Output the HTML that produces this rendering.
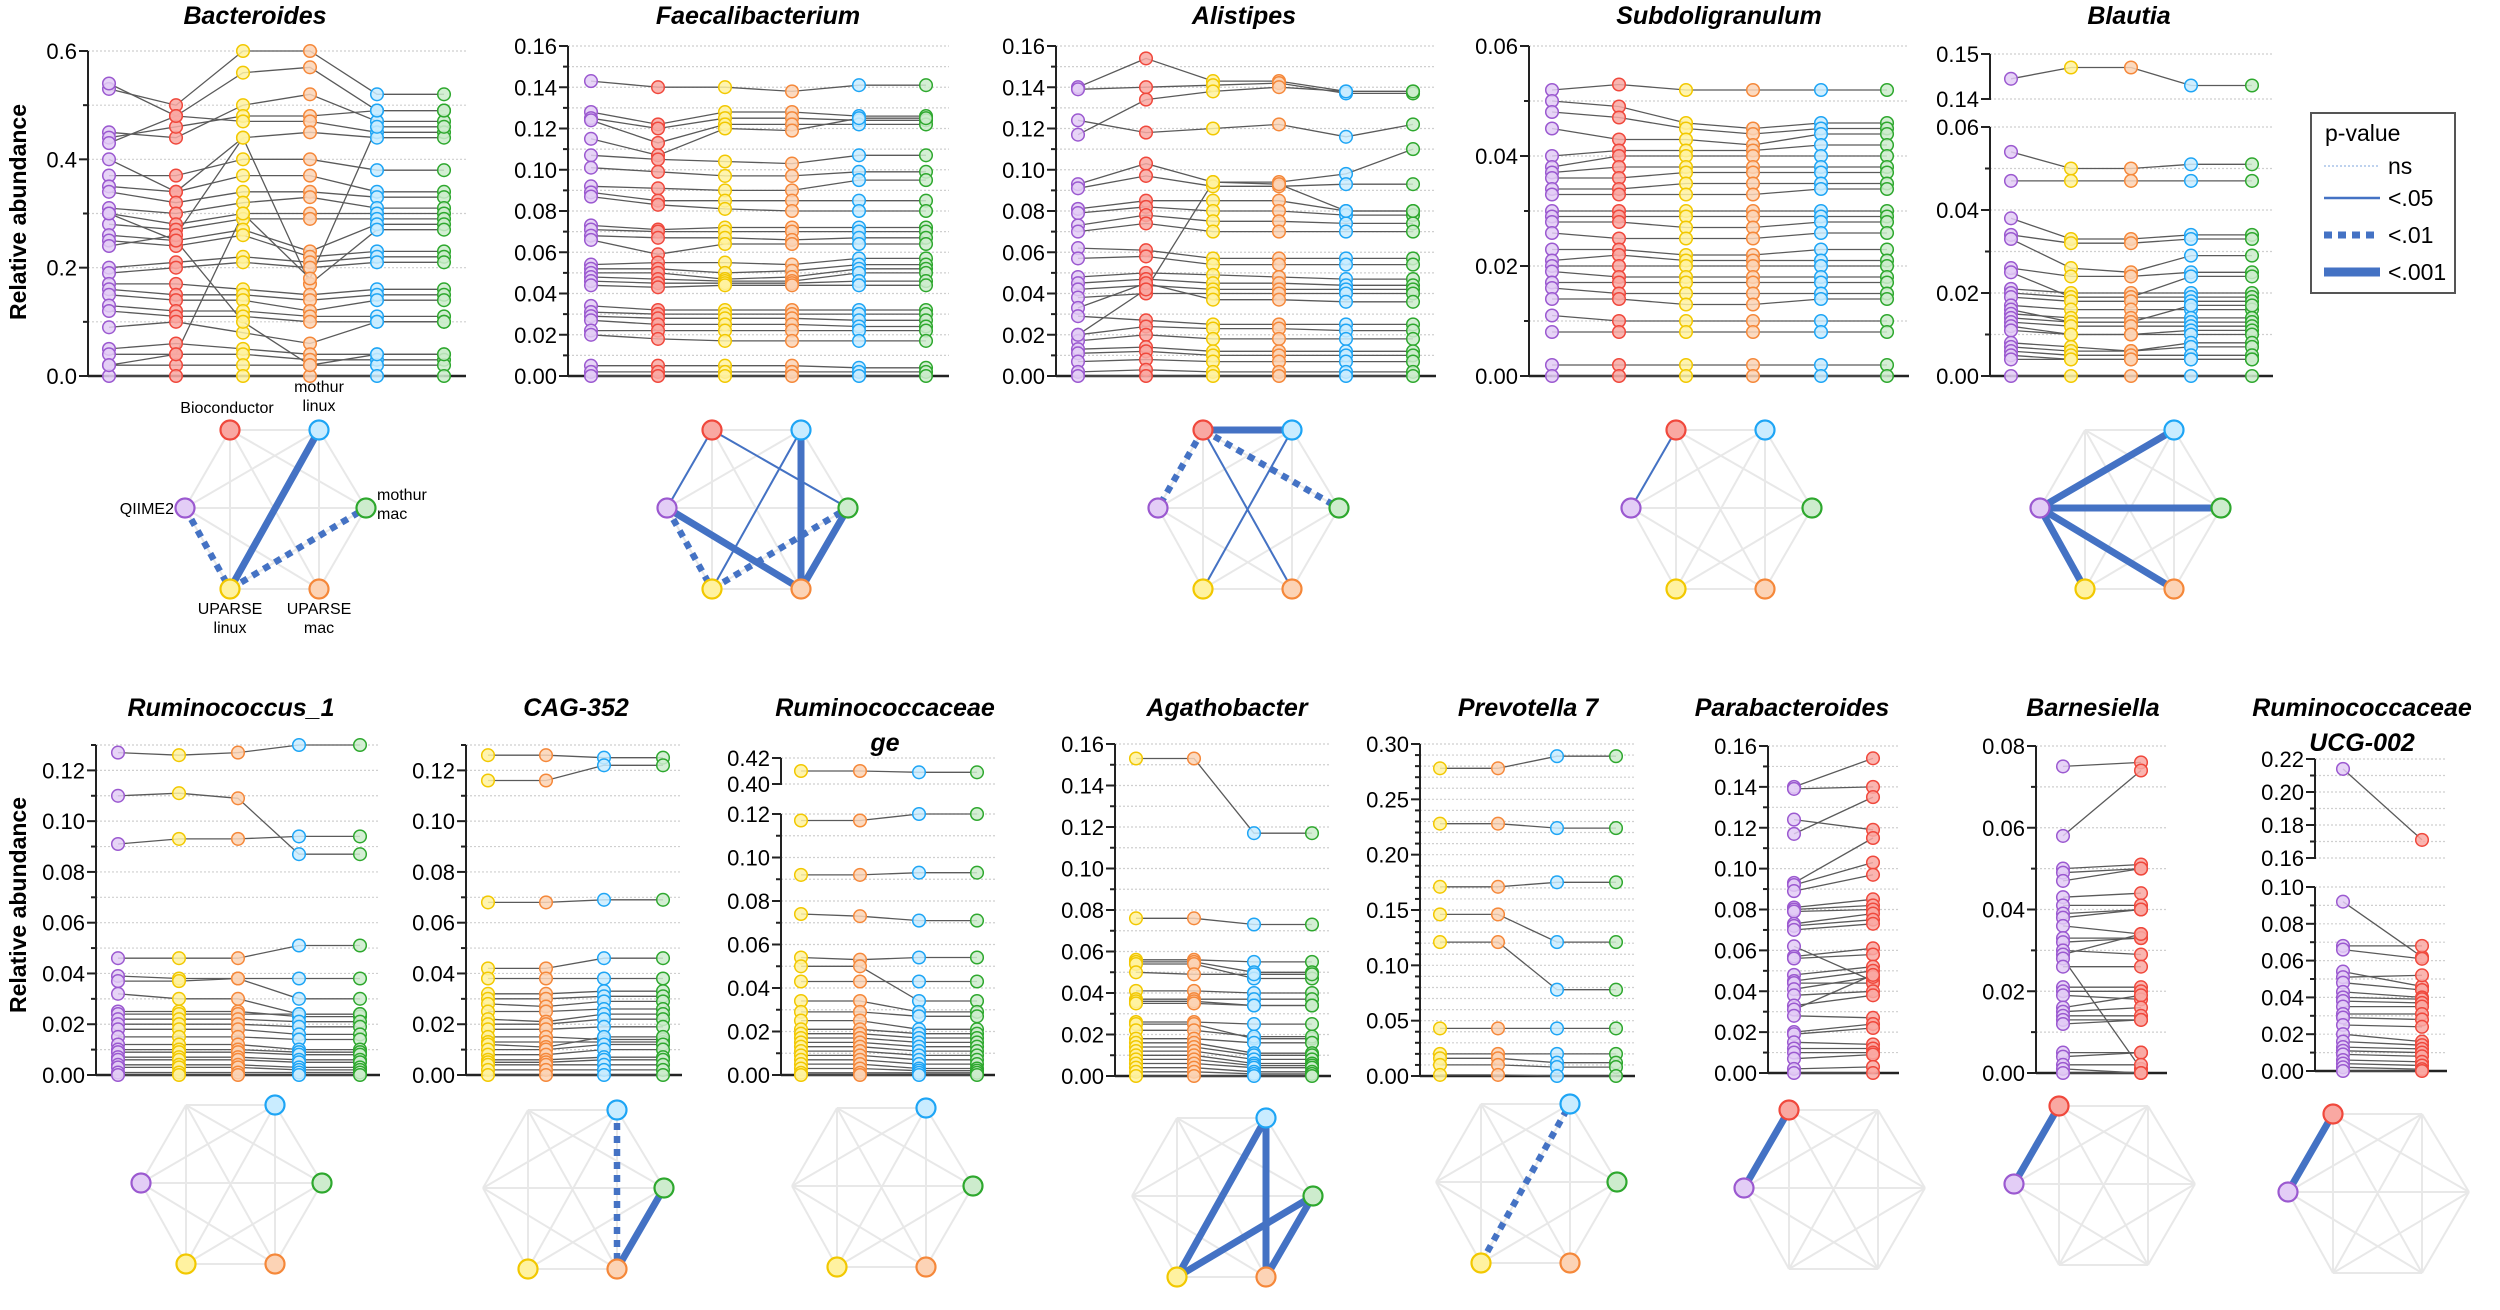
<!DOCTYPE html>
<html><head><meta charset="utf-8"><style>
html,body{margin:0;padding:0;background:#fff}
svg{display:block}
text{font-family:"Liberation Sans",sans-serif}
</style></head><body>
<svg id="fig" width="2500" height="1310" viewBox="0 0 2500 1310" xmlns="http://www.w3.org/2000/svg">
<text x="0" y="0" transform="translate(26,212) rotate(-90)" text-anchor="middle" font-size="23" font-weight="bold">Relative abundance</text>
<text x="0" y="0" transform="translate(26,905) rotate(-90)" text-anchor="middle" font-size="23" font-weight="bold">Relative abundance</text>
<g>
<rect x="2311" y="113" width="144" height="180" fill="#fff" stroke="#555" stroke-width="2"/>
<text x="2325" y="141" font-size="23">p-value</text>
<line x1="2324" y1="166" x2="2380" y2="166" stroke="#a8c4e8" stroke-width="1.5" stroke-dasharray="2,2"/>
<text x="2388" y="174" font-size="23">ns</text>
<line x1="2324" y1="198" x2="2380" y2="198" stroke="#4472c4" stroke-width="2.5"/>
<text x="2388" y="206" font-size="23">&lt;.05</text>
<line x1="2324" y1="235" x2="2380" y2="235" stroke="#4472c4" stroke-width="7" stroke-dasharray="8,6"/>
<text x="2388" y="243" font-size="23">&lt;.01</text>
<line x1="2324" y1="272" x2="2380" y2="272" stroke="#4472c4" stroke-width="9"/>
<text x="2388" y="280" font-size="23">&lt;.001</text>
</g>
</svg>
<script>
// ---- data ----
const methodColors = {P:["#9b59d0","#e3cdf6"],R:["#f0483c","#f9a8a2"],Y:["#f2c800","#fff2a0"],O:["#f5883a","#fcd3b5"],B:["#1ea5f5","#c9ecff"],G:["#2ea82e","#cdeccd"]};
const bacteroidesValues = [[0.53,0.50,0.60,0.60,0.52,0.52],[0.54,0.48,0.56,0.57,0.49,0.49],[0.45,0.44,0.50,0.52,0.47,0.47],[0.44,0.46,0.48,0.48,0.49,0.49],[0.43,0.48,0.47,0.47,0.45,0.45],[0.40,0.34,0.44,0.45,0.44,0.44],[0.37,0.37,0.40,0.40,0.38,0.38],[0.35,0.34,0.37,0.37,0.34,0.34],[0.34,0.32,0.34,0.34,0.33,0.33],[0.31,0.30,0.32,0.33,0.31,0.31],[0.30,0.28,0.30,0.30,0.30,0.30],[0.28,0.27,0.29,0.29,0.29,0.29],[0.26,0.25,0.27,0.23,0.28,0.28],[0.25,0.24,0.26,0.22,0.23,0.23],[0.24,0.26,0.44,0.17,0.27,0.27],[0.20,0.21,0.22,0.21,0.22,0.22],[0.19,0.20,0.21,0.20,0.21,0.21],[0.17,0.17,0.16,0.15,0.16,0.16],[0.16,0.15,0.15,0.14,0.15,0.15],[0.15,0.14,0.14,0.12,0.14,0.14],[0.13,0.12,0.12,0.11,0.11,0.11],[0.12,0.11,0.11,0.10,0.10,0.10],[0.09,0.10,0.08,0.06,0.10,0.10],[0.05,0.06,0.05,0.04,0.04,0.04],[0.04,0.04,0.04,0.03,0.03,0.03],[0.02,0.02,0.02,0.02,0.02,0.02],[0.00,0.00,0.00,0.00,0.00,0.00],[0.30,0.25,0.10,0.02,0.04,0.04],[0.02,0.04,0.30,0.18,0.46,0.46]];
const faecaliValues = [[0.143,0.140,0.140,0.138,0.141,0.141],[0.128,0.122,0.128,0.128,0.126,0.126],[0.125,0.120,0.125,0.125,0.124,0.124],[0.124,0.113,0.122,0.122,0.122,0.122],[0.115,0.107,0.120,0.119,0.125,0.125],[0.107,0.105,0.104,0.103,0.107,0.107],[0.101,0.099,0.097,0.097,0.099,0.099],[0.092,0.091,0.090,0.090,0.095,0.095],[0.089,0.085,0.085,0.085,0.085,0.085],[0.087,0.083,0.081,0.080,0.080,0.080],[0.073,0.071,0.072,0.072,0.072,0.072],[0.071,0.070,0.070,0.070,0.070,0.070],[0.068,0.067,0.067,0.066,0.067,0.067],[0.066,0.059,0.064,0.064,0.064,0.064],[0.054,0.055,0.055,0.054,0.057,0.057],[0.052,0.052,0.050,0.051,0.054,0.054],[0.050,0.050,0.047,0.048,0.052,0.052],[0.048,0.047,0.046,0.046,0.050,0.050],[0.046,0.045,0.045,0.045,0.046,0.046],[0.044,0.043,0.044,0.044,0.044,0.044],[0.034,0.032,0.032,0.032,0.032,0.032],[0.031,0.030,0.030,0.030,0.030,0.030],[0.029,0.028,0.028,0.028,0.027,0.027],[0.027,0.025,0.025,0.025,0.024,0.024],[0.022,0.022,0.022,0.022,0.022,0.022],[0.020,0.018,0.017,0.017,0.017,0.017],[0.005,0.005,0.005,0.005,0.004,0.004],[0.002,0.002,0.002,0.002,0.002,0.002],[0,0,0,0,0,0]];
const alistipesValues = [[0.140,0.154,0.143,0.143,0.138,0.138],[0.139,0.140,0.141,0.142,0.137,0.137],[0.124,0.118,0.120,0.122,0.116,0.122],[0.117,0.134,0.138,0.140,0.138,0.138],[0.093,0.103,0.094,0.094,0.098,0.110],[0.091,0.097,0.092,0.092,0.093,0.093],[0.081,0.085,0.085,0.085,0.080,0.080],[0.079,0.082,0.080,0.080,0.078,0.078],[0.073,0.078,0.075,0.075,0.074,0.074],[0.070,0.074,0.070,0.070,0.070,0.070],[0.062,0.061,0.057,0.057,0.057,0.057],[0.057,0.058,0.054,0.054,0.054,0.054],[0.048,0.050,0.049,0.048,0.047,0.047],[0.045,0.047,0.045,0.045,0.044,0.044],[0.042,0.044,0.042,0.042,0.042,0.042],[0.038,0.040,0.040,0.040,0.040,0.040],[0.033,0.045,0.037,0.037,0.036,0.036],[0.029,0.027,0.025,0.025,0.025,0.025],[0.020,0.024,0.023,0.023,0.022,0.022],[0.017,0.020,0.018,0.018,0.018,0.018],[0.013,0.014,0.012,0.012,0.012,0.012],[0.011,0.012,0.010,0.010,0.010,0.010],[0.007,0.008,0.007,0.007,0.007,0.007],[0.002,0.003,0.002,0.002,0.002,0.002],[0,0,0,0,0,0],[0.020,0.042,0.094,0.093,0.080,0.080]];
const subdoValues = [[0.052,0.053,0.052,0.052,0.052,0.052],[0.050,0.049,0.046,0.045,0.046,0.046],[0.048,0.047,0.045,0.044,0.045,0.045],[0.045,0.043,0.043,0.042,0.044,0.044],[0.040,0.041,0.041,0.041,0.042,0.042],[0.038,0.040,0.040,0.040,0.040,0.040],[0.037,0.038,0.038,0.038,0.038,0.038],[0.036,0.036,0.037,0.037,0.037,0.037],[0.034,0.034,0.035,0.035,0.035,0.035],[0.033,0.033,0.033,0.033,0.034,0.034],[0.030,0.030,0.030,0.030,0.030,0.030],[0.029,0.029,0.029,0.029,0.029,0.029],[0.028,0.028,0.027,0.027,0.028,0.028],[0.026,0.025,0.025,0.025,0.026,0.026],[0.023,0.023,0.022,0.022,0.023,0.023],[0.021,0.022,0.021,0.021,0.021,0.021],[0.020,0.020,0.020,0.020,0.020,0.020],[0.019,0.018,0.018,0.018,0.018,0.018],[0.017,0.017,0.017,0.017,0.017,0.017],[0.016,0.015,0.015,0.015,0.015,0.015],[0.014,0.014,0.013,0.013,0.014,0.014],[0.011,0.010,0.010,0.010,0.010,0.010],[0.008,0.008,0.008,0.008,0.008,0.008],[0.002,0.002,0.002,0.002,0.002,0.002],[0,0,0,0,0,0]];
const blautiaValues = [[0.1445,0.147,0.147,0.143,0.143],[0.054,0.050,0.050,0.051,0.051],[0.047,0.047,0.047,0.047,0.047],[0.038,0.033,0.033,0.034,0.034],[0.034,0.032,0.032,0.033,0.033],[0.033,0.026,0.025,0.029,0.029],[0.026,0.024,0.024,0.025,0.025],[0.025,0.019,0.019,0.024,0.024],[0.021,0.020,0.020,0.020,0.020],[0.020,0.019,0.019,0.019,0.019],[0.019,0.018,0.018,0.018,0.018],[0.017,0.016,0.016,0.016,0.016],[0.016,0.013,0.013,0.017,0.017],[0.015,0.014,0.014,0.014,0.014],[0.014,0.013,0.013,0.013,0.013],[0.013,0.012,0.012,0.012,0.012],[0.012,0.010,0.010,0.011,0.011],[0.011,0.010,0.010,0.010,0.010],[0.008,0.007,0.006,0.008,0.008],[0.007,0.006,0.006,0.007,0.007],[0.006,0.005,0.005,0.005,0.005],[0.005,0.004,0.004,0.004,0.004],[0.004,0.004,0.004,0.004,0.004],[0,0,0,0,0]];
const rum1Values = [[0.127,0.126,0.127,0.130,0.130],[0.110,0.111,0.109,0.087,0.087],[0.091,0.093,0.093,0.094,0.094],[0.046,0.046,0.046,0.051,0.051],[0.039,0.038,0.038,0.038,0.038],[0.037,0.037,0.038,0.030,0.030],[0.032,0.030,0.030,0.024,0.024],[0.025,0.025,0.025,0.023,0.023],[0.024,0.024,0.024,0.024,0.024],[0.022,0.022,0.022,0.021,0.021],[0.020,0.020,0.020,0.019,0.019],[0.018,0.018,0.018,0.016,0.016],[0.015,0.015,0.015,0.014,0.014],[0.012,0.012,0.012,0.010,0.010],[0.010,0.010,0.010,0.009,0.009],[0.009,0.009,0.009,0.008,0.008],[0.007,0.007,0.007,0.006,0.006],[0.006,0.006,0.006,0.005,0.005],[0.004,0.004,0.004,0.003,0.003],[0.003,0.003,0.003,0.002,0.002],[0.001,0.001,0.001,0.001,0.001],[0,0,0,0,0]];
const cagValues = [[0.126,0.126,0.125,0.125],[0.116,0.116,0.122,0.122],[0.068,0.068,0.069,0.069],[0.042,0.042,0.046,0.046],[0.038,0.038,0.038,0.038],[0.032,0.032,0.033,0.033],[0.030,0.030,0.031,0.031],[0.028,0.027,0.029,0.029],[0.025,0.025,0.026,0.026],[0.022,0.021,0.024,0.024],[0.020,0.020,0.022,0.022],[0.018,0.018,0.019,0.019],[0.015,0.015,0.014,0.014],[0.013,0.013,0.013,0.013],[0.012,0.011,0.015,0.015],[0.010,0.010,0.012,0.012],[0.008,0.008,0.010,0.010],[0.006,0.006,0.007,0.007],[0.005,0.005,0.006,0.006],[0.004,0.004,0.004,0.004],[0.002,0.002,0.002,0.002],[0,0,0,0]];
const rumGeValues = [[0.410,0.410,0.409,0.409],[0.117,0.117,0.120,0.120],[0.092,0.092,0.093,0.093],[0.074,0.073,0.071,0.071],[0.054,0.053,0.054,0.054],[0.050,0.050,0.034,0.034],[0.043,0.043,0.043,0.043],[0.034,0.034,0.029,0.029],[0.029,0.029,0.027,0.027],[0.025,0.025,0.021,0.021],[0.021,0.021,0.019,0.019],[0.019,0.019,0.017,0.017],[0.017,0.017,0.015,0.015],[0.015,0.015,0.013,0.013],[0.013,0.013,0.011,0.011],[0.011,0.011,0.009,0.009],[0.009,0.009,0.007,0.007],[0.007,0.007,0.005,0.005],[0.005,0.005,0.003,0.003],[0.003,0.003,0.002,0.002],[0.001,0.001,0.001,0.001],[0,0,0,0]];
const agathoValues = [[0.153,0.153,0.117,0.117],[0.076,0.076,0.073,0.073],[0.056,0.056,0.055,0.055],[0.055,0.055,0.050,0.050],[0.054,0.054,0.047,0.047],[0.050,0.049,0.049,0.049],[0.041,0.041,0.040,0.040],[0.037,0.037,0.037,0.037],[0.036,0.036,0.034,0.034],[0.035,0.035,0.034,0.034],[0.026,0.026,0.025,0.025],[0.025,0.025,0.018,0.018],[0.022,0.022,0.019,0.019],[0.018,0.018,0.016,0.016],[0.016,0.016,0.011,0.011],[0.014,0.014,0.010,0.010],[0.012,0.012,0.008,0.008],[0.010,0.010,0.006,0.006],[0.008,0.008,0.005,0.005],[0.006,0.006,0.004,0.004],[0.004,0.004,0.002,0.002],[0.002,0.002,0.001,0.001],[0,0,0,0]];
const prevotellaValues = [[0.278,0.278,0.289,0.289],[0.228,0.228,0.224,0.224],[0.171,0.171,0.175,0.175],[0.146,0.146,0.121,0.121],[0.121,0.121,0.078,0.078],[0.043,0.043,0.043,0.043],[0.020,0.020,0.020,0.020],[0.016,0.016,0.012,0.012],[0.010,0.010,0.008,0.008],[0.001,0.001,0,0]];
const parabValues = [[0.140,0.154],[0.139,0.140],[0.124,0.119],[0.117,0.135],[0.093,0.115],[0.092,0.103],[0.089,0.097],[0.081,0.085],[0.080,0.082],[0.079,0.080],[0.073,0.078],[0.072,0.075],[0.070,0.073],[0.062,0.045],[0.057,0.061],[0.056,0.058],[0.048,0.052],[0.045,0.050],[0.044,0.044],[0.041,0.047],[0.038,0.040],[0.033,0.038],[0.031,0.048],[0.028,0.027],[0.020,0.024],[0.019,0.022],[0.015,0.014],[0.012,0.012],[0.010,0.010],[0.007,0.009],[0.002,0.003],[0,0]];
const barnesValues = [[0.075,0.076],[0.058,0.074],[0.050,0.051],[0.049,0.050],[0.047,0.050],[0.043,0.044],[0.041,0.041],[0.039,0.040],[0.038,0.040],[0.036,0.034],[0.033,0.033],[0.032,0.033],[0.030,0.029],[0.029,0.034],[0.028,0.001],[0.026,0.026],[0.021,0.021],[0.020,0.020],[0.019,0.018],[0.016,0.019],[0.015,0.016],[0.014,0.014],[0.013,0.013],[0.012,0.013],[0.005,0.005],[0.004,0.005],[0.002,0.002],[0.001,0],[0,0]];
const ucgValues = [[0.214,0.171],[0.092,0.062],[0.068,0.068],[0.066,0.061],[0.054,0.046],[0.051,0.052],[0.048,0.044],[0.043,0.040],[0.040,0.039],[0.038,0.037],[0.035,0.035],[0.031,0.031],[0.029,0.028],[0.025,0.024],[0.020,0.016],[0.016,0.014],[0.013,0.012],[0.011,0.010],[0.009,0.008],[0.006,0.005],[0.004,0.003],[0.002,0.001],[0,0]];
// significance edges per genus: [from,to,level]
const bacteroidesEdges=[["Y","B","001"],["P","Y","01"],["Y","G","01"]];
const faecaliEdges=[["R","P","05"],["R","G","05"],["B","Y","05"],["B","O","001"],["P","O","001"],["P","Y","01"],["Y","G","01"],["O","G","001"]];
const alistipesEdges=[["R","B","001"],["R","P","01"],["R","G","01"],["R","O","05"],["B","Y","05"]];
const subdoEdges=[["R","P","05"]];
const blautiaEdges=[["P","B","001"],["P","G","001"],["P","Y","001"],["P","O","001"]];
const rum1Edges=[];
const cagEdges=[["B","O","01"],["O","G","001"]];
const rumGeEdges=[];
const agathoEdges=[["Y","B","001"],["B","O","001"],["Y","G","001"],["O","G","001"]];
const prevotellaEdges=[["Y","B","01"]];
const parabEdges=[["R","P","001"]];
const barnesEdges=[["R","P","001"]];
const ucgEdges=[["R","P","001"]];

// ---- layout ----
const panels=[
 {name:"bacteroides",title:["Bacteroides"],tx:255,ty:24,ax:88,xs:[109,176,243,310,377,444],right:466,m:"PRYOBG",vals:bacteroidesValues,segs:[{lo:0,hi:0.6,y0:376,y1:51,maj:0.2,min:0.1,d:1}],net:{cx:275,cy:510,s:1,nodes:"PRYOBG",edges:bacteroidesEdges,labels:true}},
 {name:"faecalibacterium",title:["Faecalibacterium"],tx:758,ty:24,ax:568,xs:[591,658,725,792,859,926],right:949,m:"PRYOBG",vals:faecaliValues,segs:[{lo:0,hi:0.16,y0:376,y1:46,maj:0.02,min:0.01,d:2}],net:{cx:757,cy:510,s:1,nodes:"PRYOBG",edges:faecaliEdges}},
 {name:"alistipes",title:["Alistipes"],tx:1244,ty:24,ax:1056,xs:[1078,1146,1213,1279,1346,1413],right:1436,m:"PRYOBG",vals:alistipesValues,segs:[{lo:0,hi:0.16,y0:376,y1:46,maj:0.02,min:0.01,d:2}],net:{cx:1248,cy:510,s:1,nodes:"PRYOBG",edges:alistipesEdges}},
 {name:"subdoligranulum",title:["Subdoligranulum"],tx:1719,ty:24,ax:1529,xs:[1552,1619,1686,1753,1821,1887],right:1909,m:"PRYOBG",vals:subdoValues,segs:[{lo:0,hi:0.06,y0:376,y1:46,maj:0.02,min:0.01,d:2}],net:{cx:1721,cy:510,s:1,nodes:"PRYOBG",edges:subdoEdges}},
 {name:"blautia",title:["Blautia"],tx:2129,ty:24,ax:1990,xs:[2011,2071,2131,2191,2252],right:2273,m:"PYOBG",vals:blautiaValues,segs:[{lo:0,hi:0.06,y0:376,y1:127,maj:0.02,min:0.01,d:2},{lo:0.14,hi:0.15,y0:99,y1:54,maj:0.01,min:0.01,d:2}],net:{cx:2130,cy:510,s:1,nodes:"PYOBG",edges:blautiaEdges}},
 {name:"ruminococcus-1",title:["Ruminococcus_1"],tx:231,ty:716,ax:96,xs:[118,179,238,299,360],right:380,m:"PYOBG",vals:rum1Values,segs:[{lo:0,hi:0.13,y0:1075,y1:745,maj:0.02,min:0.01,d:2}],net:{cx:231,cy:1185,s:1,nodes:"PYOBG",edges:rum1Edges}},
 {name:"cag-352",title:["CAG-352"],tx:576,ty:716,ax:466,xs:[488,546,604,663],right:682,m:"YOBG",vals:cagValues,segs:[{lo:0,hi:0.13,y0:1075,y1:745,maj:0.02,min:0.01,d:2}],net:{cx:573,cy:1190,s:1,nodes:"YOBG",edges:cagEdges}},
 {name:"ruminococcaceae-ge",title:["Ruminococcaceae","ge"],tx:885,ty:716,ax:781,xs:[801,860,919,977],right:995,m:"YOBG",vals:rumGeValues,segs:[{lo:0,hi:0.12,y0:1075,y1:814,maj:0.02,min:0.01,d:2},{lo:0.40,hi:0.42,y0:784,y1:758,maj:0.02,min:0.02,d:2}],net:{cx:882,cy:1188,s:1,nodes:"YOBG",edges:rumGeEdges}},
 {name:"agathobacter",title:["Agathobacter"],tx:1227,ty:716,ax:1115,xs:[1136,1194,1254,1312],right:1331,m:"YOBG",vals:agathoValues,segs:[{lo:0,hi:0.16,y0:1076,y1:744,maj:0.02,min:0.01,d:2}],net:{cx:1222,cy:1198,s:1,nodes:"YOBG",edges:agathoEdges}},
 {name:"prevotella-7",title:["Prevotella 7"],tx:1528,ty:716,ax:1420,xs:[1440,1498,1557,1616],right:1635,m:"YOBG",vals:prevotellaValues,segs:[{lo:0,hi:0.30,y0:1076,y1:744,maj:0.05,min:0.01,d:2}],net:{cx:1526,cy:1184,s:1,nodes:"YOBG",edges:prevotellaEdges}},
 {name:"parabacteroides",title:["Parabacteroides"],tx:1792,ty:716,ax:1768,xs:[1794,1873],right:1899,m:"PR",vals:parabValues,segs:[{lo:0,hi:0.16,y0:1073,y1:746,maj:0.02,min:0.01,d:2}],net:{cx:1834,cy:1190,s:1,nodes:"PR",edges:parabEdges}},
 {name:"barnesiella",title:["Barnesiella"],tx:2093,ty:716,ax:2036,xs:[2063,2141],right:2167,m:"PR",vals:barnesValues,segs:[{lo:0,hi:0.08,y0:1073,y1:746,maj:0.02,min:0.01,d:2}],net:{cx:2104,cy:1186,s:1,nodes:"PR",edges:barnesEdges}},
 {name:"ruminococcaceae-ucg-002",title:["Ruminococcaceae","UCG-002"],tx:2362,ty:716,ax:2315,xs:[2343,2422],right:2447,m:"PR",vals:ucgValues,segs:[{lo:0,hi:0.10,y0:1071,y1:887,maj:0.02,min:0.01,d:2},{lo:0.16,hi:0.22,y0:858,y1:759,maj:0.02,min:0.01,d:2}],net:{cx:2378,cy:1194,s:1,nodes:"PR",edges:ucgEdges}}
];
panels[10].title=["Parabacteroides"];
const NS="http://www.w3.org/2000/svg";
const svg=document.getElementById("fig");
function mk(tag,attrs,parent){const e=document.createElementNS(NS,tag);for(const k in attrs)e.setAttribute(k,attrs[k]);(parent||svg).appendChild(e);return e;}
function yScale(p,v){for(const s of p.segs){if(v>=s.lo-1e-9&&v<=s.hi+1e-9)return s.y0+(v-s.lo)/(s.hi-s.lo)*(s.y1-s.y0);}return p.segs[0].y1;}
const nodePos={R:[-45,-80],B:[44,-80],P:[-90,-2],G:[91,-2],Y:[-45,79],O:[44,79]};
const netLabels={R:["Bioconductor"],B:["mothur","linux"],P:["QIIME2"],G:["mothur","mac"],Y:["UPARSE","linux"],O:["UPARSE","mac"]};

panels.forEach(p=>{
 const g=mk("g",{});
 
 
 // title
 p.title.forEach((t,i)=>{
  const tt=mk("text",{x:p.tx,y:p.ty+i*35,"text-anchor":"middle","font-size":25,"font-weight":"bold","font-style":"italic"},g);
  tt.textContent=t;
  
  
 });
 // axis segments, grid, ticks
 p.segs.forEach(s=>{
  const n=Math.round((s.hi-s.lo)/s.min);
  for(let i=0;i<=n;i++){
   const v=s.lo+i*s.min;const y=yScale(p,v);
   const gl=mk("line",{x1:p.ax,y1:y,x2:p.right,y2:y,stroke:"#cfcfcf","stroke-width":1.2,"stroke-dasharray":"2,2"},g);
   
   
   const isMaj=Math.abs(((v-s.lo)/s.maj)-Math.round((v-s.lo)/s.maj))<1e-6;
   const tk=mk("line",{x1:p.ax-(isMaj?9:5),y1:y,x2:p.ax,y2:y,stroke:"#222","stroke-width":2},g);
   
   
   if(isMaj){
    const lb=mk("text",{x:p.ax-11,y:y+8,"text-anchor":"end","font-size":22},g);
    lb.textContent=v.toFixed(s.d);
    
    
   }
  }
  const al=mk("line",{x1:p.ax,y1:s.y0+(s.lo===0?0:1),x2:p.ax,y2:s.y1,stroke:"#222","stroke-width":2},g);
  
  
 });
 const xa=mk("line",{x1:p.ax,y1:p.segs[0].y0,x2:p.right,y2:p.segs[0].y0,stroke:"#222","stroke-width":2.5},g);
 
 
 // subject lines
 p.vals.forEach(row=>{
  const pts=row.map((v,i)=>p.xs[i]+","+yScale(p,v).toFixed(1)).join(" ");
  const pl=mk("polyline",{points:pts,fill:"none",stroke:"#5a5a5a","stroke-width":1.3},g);
  
  
 });
 p.vals.forEach(row=>{
  row.forEach((v,i)=>{
   const c=methodColors[p.m[i]];
   const pt=mk("circle",{cx:p.xs[i],cy:yScale(p,v).toFixed(1),r:6.3,fill:c[1],"fill-opacity":0.85,stroke:c[0],"stroke-width":1.5},g);
   
   
  });
 });
 // network
 const n=p.net;
 const ng=mk("g",{},g);
 
 
 const keys=Object.keys(nodePos);
 for(let i=0;i<6;i++)for(let j=i+1;j<6;j++){
  const a=nodePos[keys[i]],b=nodePos[keys[j]];
  const e=mk("line",{x1:n.cx+a[0],y1:n.cy+a[1],x2:n.cx+b[0],y2:n.cy+b[1],stroke:"#e8e8e8","stroke-width":2},ng);
  
  
 }
 n.edges.forEach(ed=>{
  const a=nodePos[ed[0]],b=nodePos[ed[1]];
  const st={"05":{w:2,d:"none"},"01":{w:6.5,d:"7,6"},"001":{w:7,d:"none"}}[ed[2]];
  const e=mk("line",{x1:n.cx+a[0],y1:n.cy+a[1],x2:n.cx+b[0],y2:n.cy+b[1],stroke:"#4472c4","stroke-width":st.w,"stroke-dasharray":st.d},ng);
  
  
 });
 n.nodes.split("").forEach(k=>{
  const a=nodePos[k],c=methodColors[k];
  const nd=mk("circle",{cx:n.cx+a[0],cy:n.cy+a[1],r:9.5,fill:c[1],stroke:c[0],"stroke-width":2.2},ng);
  
  
 });
 if(n.labels){
  const lp={R:[n.cx-48,413,"middle"],B:[n.cx+44,392,"middle"],P:[n.cx-101,514,"end"],G:[n.cx+102,500,"start"],Y:[n.cx-45,614,"middle"],O:[n.cx+44,614,"middle"]};
  keys.forEach(k=>{
   netLabels[k].forEach((t,i)=>{
    const tl=mk("text",{x:lp[k][0],y:lp[k][1]+i*19,"text-anchor":lp[k][2],"font-size":16},ng);
    tl.textContent=t;
    
    
   });
  });
 }
});
</script>
</body></html>
